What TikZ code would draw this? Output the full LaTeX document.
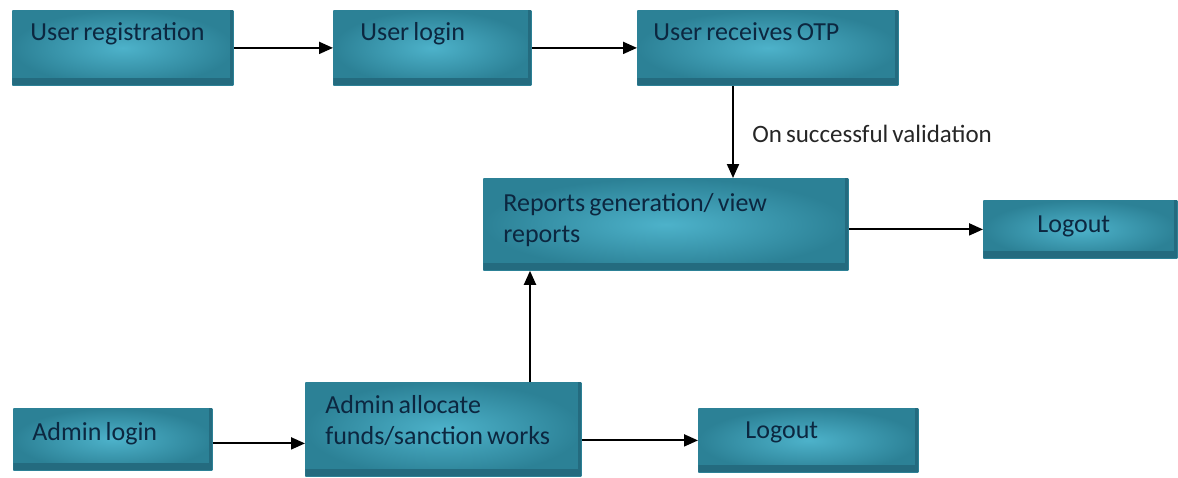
\documentclass[tikz,border=0pt]{standalone}
\usepackage{fontspec}
\setmainfont{Carlito}
\usetikzlibrary{arrows.meta}
\definecolor{boxmid}{HTML}{4DB2CA}
\definecolor{boxedge}{HTML}{2C8196}
\definecolor{boxdark}{HTML}{246B7F}
\definecolor{boxtext}{HTML}{0C2740}
\newcommand\tightspace{\spaceskip=0.16em\relax}

\begin{document}
\begin{tikzpicture}[x=0.5pt,y=-0.5pt,
  flowbox/.style={rectangle,anchor=north west,inner sep=0pt,inner color=boxmid,outer color=boxedge,
    path picture={\fill[boxdark] ([yshift=3.5pt]path picture bounding box.south west) rectangle (path picture bounding box.south east);
      \fill[boxdark] ([xshift=-1.5pt]path picture bounding box.south east) rectangle (path picture bounding box.north east);}},
  boxlabel/.style={anchor=base west,inner sep=0pt,text=boxtext,font=\fontsize{13}{15.5}\selectfont\tightspace},
  flow/.style={-{Triangle[length=7pt,width=6pt]},line width=1pt}]
\useasboundingbox (0,0) rectangle (1178,477);
\node[flowbox,minimum width=110.5pt,minimum height=37.5pt] (reg) at (12,10) {};
\node[flowbox,minimum width=99pt,minimum height=37.5pt] (login) at (333,10) {};
\node[flowbox,minimum width=130.5pt,minimum height=37.5pt] (otp) at (637,10) {};
\node[flowbox,minimum width=182.5pt,minimum height=46pt] (reports) at (483,178) {};
\node[flowbox,minimum width=97pt,minimum height=29pt] (logoutA) at (983,200) {};
\node[flowbox,minimum width=99.5pt,minimum height=31pt] (adminlogin) at (13,408) {};
\node[flowbox,minimum width=138pt,minimum height=47pt] (allocate) at (305,382) {};
\node[flowbox,minimum width=110pt,minimum height=32pt] (logoutB) at (698,408) {};
\node[boxlabel] (regtxt) at (30,40) {User registration};
\node[boxlabel] (logintxt) at (360,40) {User login};
\node[boxlabel] (otptxt) at (653,40) {User receives OTP};
\node[boxlabel,text width=170pt,align=left] (reporttxt) at (503,211) {\tightspace Reports generation/ view\\reports};
\node[boxlabel] (logoutAtxt) at (1037,232) {Logout};
\node[boxlabel] (admintxt) at (32,440) {Admin login};
\node[boxlabel,text width=130pt,align=left] (allocatetxt) at (325,413) {\tightspace Admin allocate\\funds/sanction works};
\node[boxlabel] (logoutBtxt) at (745,438) {Logout};
\node[anchor=base west,inner sep=0pt,text=black!85,font=\fontsize{12.5}{14}\selectfont\tightspace] (valid) at (752,142) {On successful validation};
\draw[flow] (reg.east) -- (login.west);
\draw[flow] (login.east) -- (otp.west);
\draw[flow] ([xshift=48pt]otp.south west) -- ([xshift=48pt]otp.south west |- reports.north);
\draw[flow] (reports.east |- logoutA.west) -- (logoutA.west);
\draw[flow] ([xshift=112.5pt]allocate.north west) -- ([xshift=112.5pt]allocate.north west |- reports.south);
\draw[flow] ([yshift=-2pt]adminlogin.east) -- ([yshift=-2pt]adminlogin.east -| allocate.west);
\draw[flow] (allocate.east |- logoutB.west) -- (logoutB.west);
\end{tikzpicture}
\end{document}
